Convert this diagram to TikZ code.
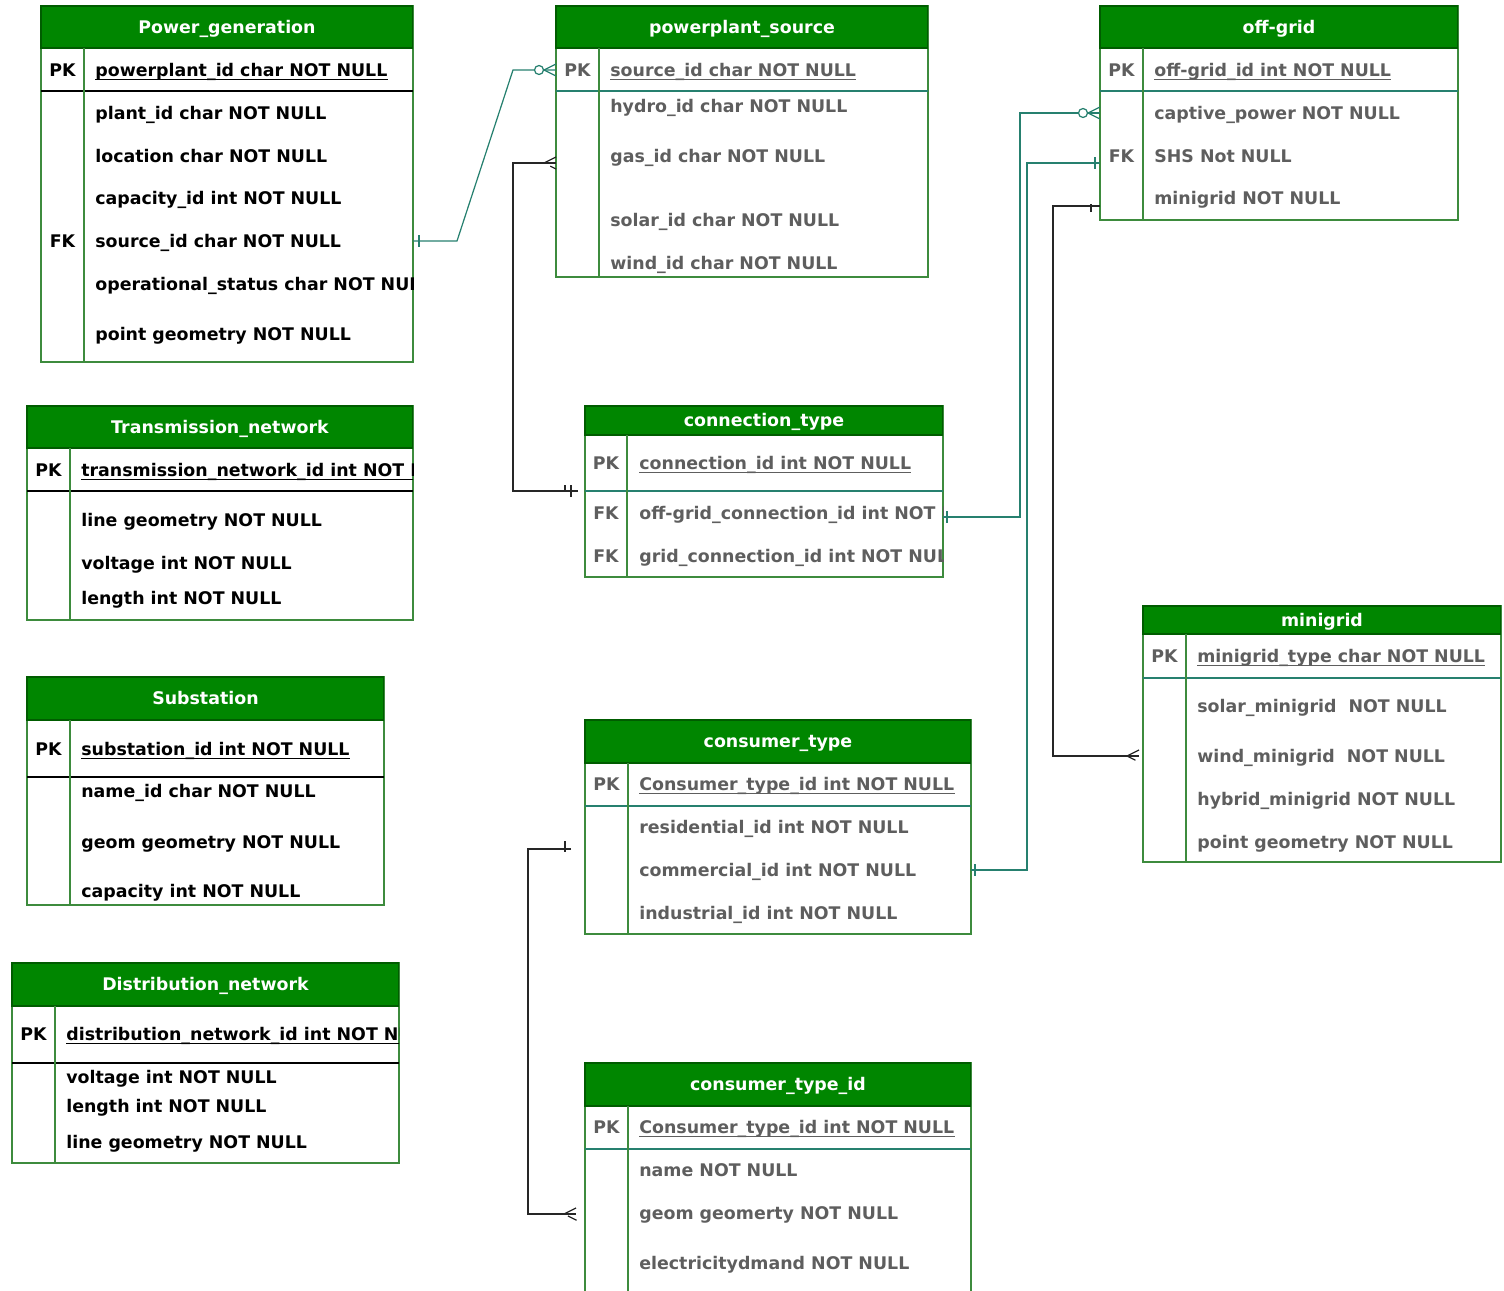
\documentclass[tikz,border=0pt]{standalone}
\usepackage{fontspec}
\setmainfont{DejaVu Sans}
\usetikzlibrary{calc}
\definecolor{erd-title}{HTML}{008600}
\definecolor{erd-titleline}{HTML}{005C00}
\definecolor{erd-border}{HTML}{3D8B3D}
\definecolor{erd-teal}{HTML}{26806F}
\definecolor{erd-grey}{HTML}{5E5E5E}
\definecolor{erd-black}{HTML}{262626}

\tikzset{
  erdtable/.style={draw=erd-border, line width=0.8pt, fill=white, anchor=north west, inner sep=0pt, outer sep=0pt},
  erdtitle/.style={draw=erd-titleline, line width=0.6pt, fill=erd-title, text=white, anchor=north west, inner sep=0pt, outer sep=0pt, text height=7pt, text depth=0pt, font=\fontsize{9.9}{12}\selectfont\bfseries},
  field/.style={anchor=west, inner sep=0pt, text height=7pt, text depth=0pt, font=\fontsize{9.9}{12}\selectfont\bfseries},
  keylabel/.style={field, anchor=center},
  gfield/.style={field, text=erd-grey},
  gkey/.style={keylabel, text=erd-grey},
  divider/.style={draw=erd-border, line width=0.8pt},
  pkline/.style={draw=black, line width=0.8pt},
  gpkline/.style={draw=erd-teal, line width=0.8pt},
  uline/.style={line width=0.6pt},
  tealrel/.style={draw=erd-teal, line width=0.7pt},
  blackrel/.style={draw=erd-black, line width=0.7pt},
  atstart/.style={pos=0, sloped, allow upside down},
  atend/.style={pos=1, sloped, allow upside down},
  one/.pic={\draw[line width=0.7pt] (#1,-6) -- (#1,6);},
  two/.pic={\draw[line width=0.7pt] (#1,-6) -- (#1,6) (#1+6,-6) -- (#1+6,6);},
  many/.pic={\draw[line width=0.7pt] (#1-12,0) -- (#1,-6) (#1-12,0) -- (#1,6);},
  zeromany/.pic={\draw[line width=0.7pt] (-12,0) -- (0,-6) (-12,0) -- (0,6);
    \filldraw[line width=0.7pt, fill=white] (-17,0) circle[radius=4.5];}
}

\begin{document}
\begin{tikzpicture}[x=0.02cm, y=-0.02cm]
		\useasboundingbox (0,0) rectangle (1504,1291);

		% Draw the Power_generation table
		\node (pg) [erdtable, minimum width=7.44cm, minimum height=7.12cm] at (41,6) {};
		\node (pg-title) [erdtitle, minimum width=7.44cm, minimum height=0.84cm] at (41,6) {Power\_generation};
		\draw[pkline] (41,91) -- (413,91);
		\draw[divider] (84,48) -- (84,362);
		\begin{scope}
		\clip (41,6) rectangle (413,362);
		\node (pg-pkkey) [keylabel] at (62.5,70) {PK};
		\node (pg-fkkey) [keylabel] at (62.5,241) {FK};
		\node (pg-pk) [field] at (95,70) {powerplant\_id char NOT NULL};
		\draw[uline] ([yshift=-1.9pt]pg-pk.base west) -- ([yshift=-1.9pt]pg-pk.base east);
		\node (pg-plant) [field] at (95,113) {plant\_id char NOT NULL};
		\node (pg-loc) [field] at (95,156) {location char NOT NULL};
		\node (pg-cap) [field] at (95,198) {capacity\_id int NOT NULL};
		\node (pg-src) [field] at (95,241) {source\_id char NOT NULL};
		\node (pg-status) [field] at (95,284) {operational\_status char NOT NULL};
		\node (pg-geom) [field] at (95,334) {point geometry NOT NULL};
		\end{scope}

		% Draw the Transmission_network table
		\node (tn) [erdtable, minimum width=7.72cm, minimum height=4.28cm] at (27,406) {};
		\node (tn-title) [erdtitle, minimum width=7.72cm, minimum height=0.84cm] at (27,406) {Transmission\_network};
		\draw[pkline] (27,491) -- (413,491);
		\draw[divider] (70,448) -- (70,620);
		\begin{scope}
		\clip (27,406) rectangle (413,620);
		\node (tn-pkkey) [keylabel] at (48.5,470) {PK};
		\node (tn-pk) [field] at (81,470) {transmission\_network\_id int NOT NULL};
		\draw[uline] ([yshift=-1.9pt]tn-pk.base west) -- ([yshift=-1.9pt]tn-pk.base east);
		\node (tn-line) [field] at (81,520) {line geometry NOT NULL};
		\node (tn-volt) [field] at (81,563) {voltage int NOT NULL};
		\node (tn-len) [field] at (81,598) {length int NOT NULL};
		\end{scope}

		% Draw the Substation table
		\node (sb) [erdtable, minimum width=7.14cm, minimum height=4.56cm] at (27,677) {};
		\node (sb-title) [erdtitle, minimum width=7.14cm, minimum height=0.86cm] at (27,677) {Substation};
		\draw[pkline] (27,777) -- (384,777);
		\draw[divider] (70,720) -- (70,905);
		\node (sb-pkkey) [keylabel] at (48.5,749) {PK};
		\node (sb-pk) [field] at (81,749) {substation\_id int NOT NULL};
		\draw[uline] ([yshift=-1.9pt]sb-pk.base west) -- ([yshift=-1.9pt]sb-pk.base east);
		\node (sb-name) [field] at (81,791) {name\_id char NOT NULL};
		\node (sb-geom) [field] at (81,842) {geom geometry NOT NULL};
		\node (sb-cap) [field] at (81,891) {capacity int NOT NULL};

		% Draw the Distribution_network table
		\node (dn) [erdtable, minimum width=7.74cm, minimum height=4.00cm] at (12,963) {};
		\node (dn-title) [erdtitle, minimum width=7.74cm, minimum height=0.86cm] at (12,963) {Distribution\_network};
		\draw[pkline] (12,1063) -- (399,1063);
		\draw[divider] (55,1006) -- (55,1163);
		\begin{scope}
		\clip (12,963) rectangle (399,1163);
		\node (dn-pkkey) [keylabel] at (33.5,1034) {PK};
		\node (dn-pk) [field] at (66,1034) {distribution\_network\_id int NOT NULL};
		\draw[uline] ([yshift=-1.9pt]dn-pk.base west) -- ([yshift=-1.9pt]dn-pk.base east);
		\node (dn-volt) [field] at (66,1077) {voltage int NOT NULL};
		\node (dn-len) [field] at (66,1106) {length int NOT NULL};
		\node (dn-line) [field] at (66,1142) {line geometry NOT NULL};
		\end{scope}

		% Draw the powerplant_source table
		\node (ps) [erdtable, minimum width=7.44cm, minimum height=5.42cm] at (556,6) {};
		\node (ps-title) [erdtitle, minimum width=7.44cm, minimum height=0.84cm] at (556,6) {powerplant\_source};
		\draw[gpkline] (556,91) -- (928,91);
		\draw[divider] (599,48) -- (599,277);
		\node (ps-pkkey) [gkey] at (577.5,70) {PK};
		\node (ps-pk) [gfield] at (610,70) {source\_id char NOT NULL};
		\draw[uline, erd-grey] ([yshift=-1.9pt]ps-pk.base west) -- ([yshift=-1.9pt]ps-pk.base east);
		\node (ps-hydro) [gfield] at (610,106) {hydro\_id char NOT NULL};
		\node (ps-gas) [gfield] at (610,156) {gas\_id char NOT NULL};
		\node (ps-solar) [gfield] at (610,220) {solar\_id char NOT NULL};
		\node (ps-wind) [gfield] at (610,263) {wind\_id char NOT NULL};

		% Draw the off-grid table
		\node (og) [erdtable, minimum width=7.16cm, minimum height=4.28cm] at (1100,6) {};
		\node (og-title) [erdtitle, minimum width=7.16cm, minimum height=0.84cm] at (1100,6) {off-grid};
		\draw[gpkline] (1100,91) -- (1458,91);
		\draw[divider] (1143,48) -- (1143,220);
		\node (og-pkkey) [gkey] at (1121.5,70) {PK};
		\node (og-fkkey) [gkey] at (1121.5,156) {FK};
		\node (og-pk) [gfield] at (1154,70) {off-grid\_id int NOT NULL};
		\draw[uline, erd-grey] ([yshift=-1.9pt]og-pk.base west) -- ([yshift=-1.9pt]og-pk.base east);
		\node (og-captive) [gfield] at (1154,113) {captive\_power NOT NULL};
		\node (og-shs) [gfield] at (1154,156) {SHS Not NULL};
		\node (og-mini) [gfield] at (1154,198) {minigrid NOT NULL};

		% Draw the connection_type table
		\node (ct) [erdtable, minimum width=7.16cm, minimum height=3.42cm] at (585,406) {};
		\node (ct-title) [erdtitle, minimum width=7.16cm, minimum height=0.58cm] at (585,406) {connection\_type};
		\draw[gpkline] (585,491) -- (943,491);
		\draw[divider] (627,435) -- (627,577);
		\begin{scope}
		\clip (585,406) rectangle (943,577);
		\node (ct-pkkey) [gkey] at (606,463) {PK};
		\node (ct-fkkey1) [gkey] at (606,513) {FK};
		\node (ct-fkkey2) [gkey] at (606,556) {FK};
		\node (ct-pk) [gfield] at (639,463) {connection\_id int NOT NULL};
		\draw[uline, erd-grey] ([yshift=-1.9pt]ct-pk.base west) -- ([yshift=-1.9pt]ct-pk.base east);
		\node (ct-offgrid) [gfield] at (639,513) {off-grid\_connection\_id int NOT NULL};
		\node (ct-grid) [gfield] at (639,556) {grid\_connection\_id int NOT NULL};
		\end{scope}

		% Draw the minigrid table
		\node (mg) [erdtable, minimum width=7.16cm, minimum height=5.12cm] at (1143,606) {};
		\node (mg-title) [erdtitle, minimum width=7.16cm, minimum height=0.56cm] at (1143,606) {minigrid};
		\draw[gpkline] (1143,678) -- (1501,678);
		\draw[divider] (1186,634) -- (1186,862);
		\node (mg-pkkey) [gkey] at (1164.5,656) {PK};
		\node (mg-pk) [gfield] at (1197,656) {minigrid\_type char NOT NULL};
		\draw[uline, erd-grey] ([yshift=-1.9pt]mg-pk.base west) -- ([yshift=-1.9pt]mg-pk.base east);
		\node (mg-solar) [gfield] at (1197,706) {solar\_minigrid\ \ NOT NULL};
		\node (mg-wind) [gfield] at (1197,756) {wind\_minigrid\ \ NOT NULL};
		\node (mg-hybrid) [gfield] at (1197,799) {hybrid\_minigrid NOT NULL};
		\node (mg-point) [gfield] at (1197,842) {point geometry NOT NULL};

		% Draw the consumer_type table
		\node (cs) [erdtable, minimum width=7.72cm, minimum height=4.28cm] at (585,720) {};
		\node (cs-title) [erdtitle, minimum width=7.72cm, minimum height=0.86cm] at (585,720) {consumer\_type};
		\draw[gpkline] (585,806) -- (971,806);
		\draw[divider] (628,763) -- (628,934);
		\node (cs-pkkey) [gkey] at (606.5,784) {PK};
		\node (cs-pk) [gfield] at (639,784) {Consumer\_type\_id int NOT NULL};
		\draw[uline, erd-grey] ([yshift=-1.9pt]cs-pk.base west) -- ([yshift=-1.9pt]cs-pk.base east);
		\node (cs-res) [gfield] at (639,827) {residential\_id int NOT NULL};
		\node (cs-com) [gfield] at (639,870) {commercial\_id int NOT NULL};
		\node (cs-ind) [gfield] at (639,913) {industrial\_id int NOT NULL};

		% Draw the consumer_type_id table
		\node (ci) [erdtable, minimum width=7.72cm, minimum height=4.80cm] at (585,1063) {};
		\node (ci-title) [erdtitle, minimum width=7.72cm, minimum height=0.86cm] at (585,1063) {consumer\_type\_id};
		\draw[gpkline] (585,1149) -- (971,1149);
		\draw[divider] (628,1106) -- (628,1303);
		\node (ci-pkkey) [gkey] at (606.5,1127) {PK};
		\node (ci-pk) [gfield] at (639,1127) {Consumer\_type\_id int NOT NULL};
		\draw[uline, erd-grey] ([yshift=-1.9pt]ci-pk.base west) -- ([yshift=-1.9pt]ci-pk.base east);
		\node (ci-name) [gfield] at (639,1170) {name NOT NULL};
		\node (ci-geom) [gfield] at (639,1213) {geom geomerty NOT NULL};
		\node (ci-demand) [gfield] at (639,1263) {electricitydmand NOT NULL};

		% Connect the tables
		\draw[tealrel] ($(pg.north east)+(0,235)$) -- pic[atstart, erd-teal]{one=6} (457,241) -- (513,70)
			-- pic[atend, erd-teal]{zeromany} ($(ps.north west)+(0,64)$);
		\draw[blackrel, shorten <=0.14cm] ($(ct.north west)+(0,85)$) -- pic[atstart, erd-black]{two=14} (513,491) -- (513,163)
			-- pic[atend, erd-black]{many=0} ($(ps.north west)+(0,157)$);
		\draw[tealrel] ($(ct.north east)+(0,111)$) -- pic[atstart, erd-teal]{one=4} (1020,517) -- (1020,113)
			-- pic[atend, erd-teal]{zeromany} ($(og.north west)+(0,107)$);
		\draw[tealrel] ($(cs.north east)+(0,150)$) -- pic[atstart, erd-teal]{one=4} (1027,870) -- (1027,163)
			-- pic[atend, erd-teal]{one=-5} ($(og.north west)+(0,157)$);
		\draw[blackrel, shorten >=0.08cm] ($(og.north west)+(0,200)$) -- pic[atstart, erd-black]{one=9} (1053,206) -- (1053,756)
			-- pic[atend, erd-black]{many=-4} ($(mg.north west)+(0,150)$);
		\draw[blackrel, shorten <=0.28cm, shorten >=0.18cm] ($(cs.north west)+(0,129)$) -- pic[atstart, erd-black]{one=20} (528,849) -- (528,1214)
			-- pic[atend, erd-black]{many=-9} ($(ci.north west)+(0,151)$);
\end{tikzpicture}
\end{document}
